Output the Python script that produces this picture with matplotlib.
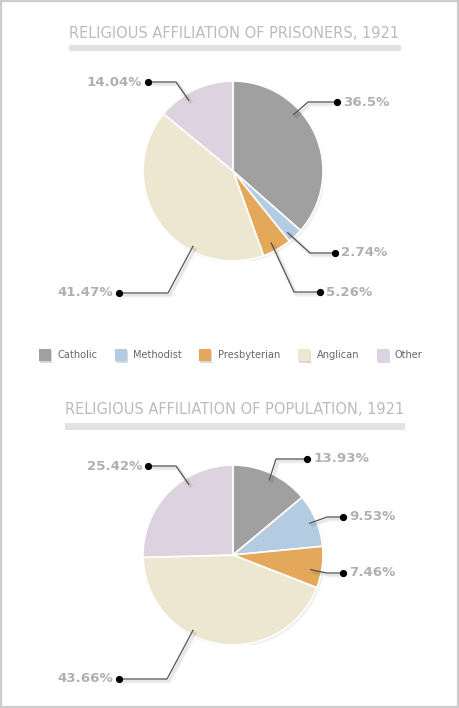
import matplotlib
matplotlib.use("Agg")
import matplotlib.pyplot as plt
import matplotlib.patheffects as pe
from matplotlib.patches import Rectangle, Circle
import numpy as np

categories = ["Catholic", "Methodist", "Presbyterian", "Anglican", "Other"]
prisoners = [36.5, 2.74, 5.26, 41.47, 14.04]
population = [13.93, 9.53, 7.46, 43.66, 25.42]
prisoner_labels = ["36.5%", "2.74%", "5.26%", "41.47%", "14.04%"]
population_labels = ["13.93%", "9.53%", "7.46%", "43.66%", "25.42%"]
titles = ["RELIGIOUS AFFILIATION OF PRISONERS, 1921", "RELIGIOUS AFFILIATION OF POPULATION, 1921"]
colors = ["#a0a0a0", "#b4cce2", "#e3a85a", "#ede6d0", "#ddd2e0"]

W, H = 460, 708
fig = plt.figure(figsize=(W / 100, H / 100), dpi=100)
fig.patch.set_facecolor("white")

ov = fig.add_axes([0, 0, 1, 1], zorder=5)
ov.set_xlim(0, W)
ov.set_ylim(H, 0)
ov.axis("off")
ov.patch.set_alpha(0)

# border
ov.add_patch(Rectangle((1, 1), W - 2.5, H - 2.5, fill=False, edgecolor="#cccccc", lw=1.6))

R = 90
# layout: pie centres, anchor (angle deg clockwise from top, radius fraction), elbow, dot
layouts = [
    dict(center=(233, 171), title_y=33, bar=(69, 45, 332, 6), title_x=69,
         anchors=[(47, 0.91), (138.5, 0.91), (152, 0.9), (208, 0.94), (328, 0.92)],
         elbows=[(308, 102), (310, 253), (294, 292), (168, 293), (176, 82)],
         dots=[(337, 102), (335, 253), (320, 292), (119, 293), (148, 82)]),
    dict(center=(233, 555), title_y=410, bar=(65, 423, 340, 7), title_x=65,
         anchors=[(25.8, 0.92), (67.5, 0.915), (100.7, 0.87), (208, 0.94), (328, 0.92)],
         elbows=[(276, 459), (327, 517), (327, 573), (167, 679), (176, 466)],
         dots=[(307, 459), (343, 517), (343, 573), (119, 679), (148, 466)]),
]

line_fx = [pe.SimpleLineShadow(offset=(1.5, -1.5), shadow_color="black", alpha=0.05, linewidth=3.5),
           pe.SimpleLineShadow(offset=(1.5, -1.5), shadow_color="black", alpha=0.05, linewidth=1.5),
           pe.Normal()]

for lay, vals, labs, title in zip(layouts, [prisoners, population], [prisoner_labels, population_labels], titles):
    cx, cy = lay["center"]
    ax = fig.add_axes([(cx - R) / W, 1 - (cy + R) / H, 2 * R / W, 2 * R / H], zorder=2)
    ax.add_patch(Circle((0.025, -0.03), 1.0, color="black", alpha=0.035, zorder=0, lw=0))
    ax.add_patch(Circle((0.015, -0.018), 1.0, color="black", alpha=0.035, zorder=0, lw=0))
    ax.pie(vals, colors=colors, startangle=90, counterclock=False,
           wedgeprops=dict(edgecolor="white", linewidth=1.2))
    ax.set_xlim(-1, 1)
    ax.set_ylim(-1, 1)
    ax.axis("off")

    # title + bar
    ov.text(lay["title_x"], lay["title_y"], title, fontsize=10.55, color="#bcbcbc",
            ha="left", va="center", family="DejaVu Sans")
    bx, by, bw, bh = lay["bar"]
    ov.add_patch(Rectangle((bx, by), bw, bh, color="#e3e3e3", lw=0))

    for (ang, rf), el, dot, lab in zip(lay["anchors"], lay["elbows"], lay["dots"], labs):
        a = np.deg2rad(ang)
        axp = cx + rf * R * np.sin(a)
        ayp = cy - rf * R * np.cos(a)
        ov.plot([axp, el[0], dot[0]], [ayp, el[1], dot[1]], color="#555555", lw=0.9,
                path_effects=line_fx, solid_capstyle="butt")
        ov.plot(dot[0], dot[1], "o", color="black", ms=4.2)
        if dot[0] > cx:
            ov.text(dot[0] + 6, dot[1], lab, ha="left", va="center", fontsize=9.6,
                    fontweight="bold", color="#b0b0b0")
        else:
            ov.text(dot[0] - 6, dot[1], lab, ha="right", va="center", fontsize=9.6,
                    fontweight="bold", color="#b0b0b0")

# legend
sq_x = [39, 115, 199, 298, 377]
tx_x = [58, 133, 218, 317, 395]
for c, name, sx, tx in zip(colors, categories, sq_x, tx_x):
    ov.add_patch(Rectangle((sx + 1.5, 350.5), 12, 12, color="black", alpha=0.15, lw=0))
    ov.add_patch(Rectangle((sx, 349), 12, 12, color=c, lw=0))
    ov.text(tx, 355, name, fontsize=7.1, color="#666666", ha="left", va="center")

fig.savefig("out.png", dpi=100)
